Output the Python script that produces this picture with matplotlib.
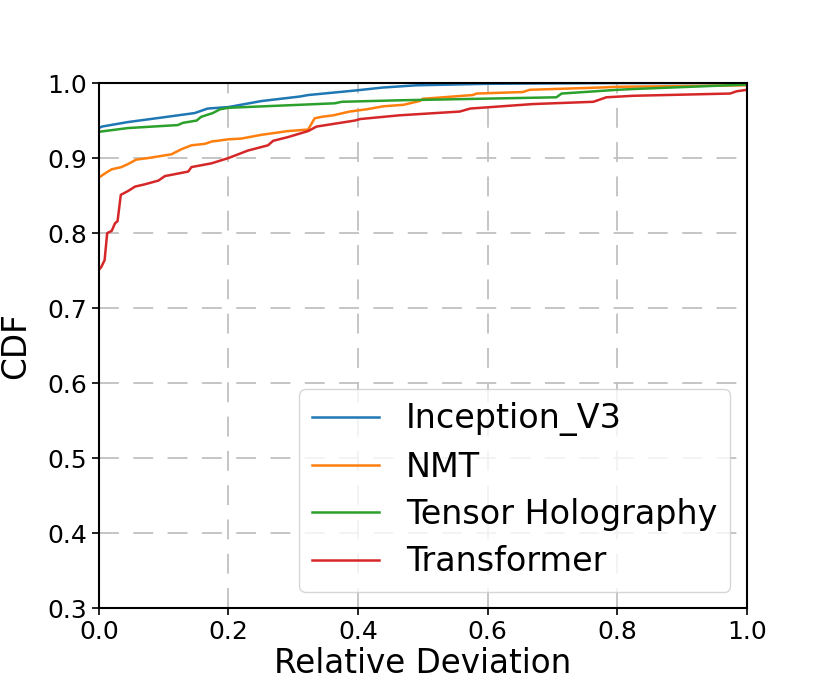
import matplotlib
matplotlib.use("Agg")
from matplotlib import pyplot as plt

# Inception_V3
inc_x = [0.0, 0.005, 0.045, 0.097, 0.148, 0.168, 0.2, 0.251, 0.31, 0.323,
         0.395, 0.438, 0.49, 0.6, 0.8, 1.0]
inc_y = [0.940, 0.942, 0.948, 0.954, 0.960, 0.966, 0.968, 0.976, 0.982, 0.984,
         0.990, 0.994, 0.997, 0.999, 1.0, 1.0]

# NMT
nmt_x = [0.0, 0.014, 0.02, 0.035, 0.045, 0.058, 0.076, 0.112, 0.128, 0.143,
         0.164, 0.174, 0.2, 0.22, 0.251, 0.292, 0.323, 0.333, 0.344, 0.362,
         0.387, 0.413, 0.439, 0.47, 0.495, 0.5, 0.577, 0.583, 0.654, 0.665,
         0.773, 0.8, 1.0]
nmt_y = [0.874, 0.882, 0.885, 0.888, 0.892, 0.898, 0.900, 0.905, 0.912, 0.917,
         0.919, 0.922, 0.925, 0.926, 0.931, 0.936, 0.938, 0.953, 0.955, 0.957,
         0.962, 0.965, 0.969, 0.971, 0.976, 0.979, 0.984, 0.986, 0.988, 0.991,
         0.994, 0.995, 0.997]

# Tensor Holography
th_x = [0.0, 0.045, 0.122, 0.13, 0.151, 0.158, 0.176, 0.187, 0.2, 0.31,
        0.364, 0.375, 0.464, 0.706, 0.714, 0.8, 0.824, 1.0]
th_y = [0.935, 0.940, 0.944, 0.947, 0.950, 0.955, 0.960, 0.965, 0.967, 0.971,
        0.973, 0.975, 0.977, 0.981, 0.986, 0.991, 0.992, 0.998]

# Transformer
tr_x = [0.0, 0.004, 0.009, 0.013, 0.02, 0.025, 0.029, 0.034, 0.045, 0.056,
        0.071, 0.092, 0.102, 0.138, 0.143, 0.174, 0.2, 0.23, 0.261, 0.269,
        0.292, 0.323, 0.336, 0.395, 0.403, 0.464, 0.557, 0.573, 0.67, 0.763,
        0.783, 0.824, 0.974, 0.984, 1.0]
tr_y = [0.751, 0.755, 0.764, 0.800, 0.803, 0.813, 0.816, 0.851, 0.856, 0.862,
        0.865, 0.870, 0.876, 0.882, 0.888, 0.893, 0.900, 0.910, 0.917, 0.923,
        0.928, 0.936, 0.942, 0.950, 0.952, 0.957, 0.962, 0.966, 0.972, 0.975,
        0.981, 0.983, 0.986, 0.989, 0.991]

series = [("Inception_V3", inc_x, inc_y),
          ("NMT", nmt_x, nmt_y),
          ("Tensor Holography", th_x, th_y),
          ("Transformer", tr_x, tr_y)]

fig = plt.figure(figsize=(8.3, 6.92), dpi=100)
ax = fig.add_axes([0.119, 0.121, 0.781, 0.759])

for name, xs, ys in series:
    ax.plot(xs, ys, linewidth=1.8, label=name)

ax.set_xlim(0, 1.0)
ax.set_ylim(0.3, 1.0)
ax.set_xticks([0.0, 0.2, 0.4, 0.6, 0.8, 1.0])
ax.set_yticks([0.3, 0.4, 0.5, 0.6, 0.7, 0.8, 0.9, 1.0])
ax.tick_params(labelsize=18, width=1.2, length=5)
for sp in ax.spines.values():
    sp.set_linewidth(1.5)

ax.grid(True, color="#c0c0c0", linewidth=1.3, linestyle=(0, (11, 8)))
ax.set_axisbelow(True)

ax.set_xlabel("Relative Deviation", fontsize=23.5, labelpad=2)
ax.set_ylabel("CDF", fontsize=23.5, labelpad=11)
ax.legend(loc="lower right", fontsize=24, labelspacing=0.43)

fig.savefig("out.png", dpi=100)
